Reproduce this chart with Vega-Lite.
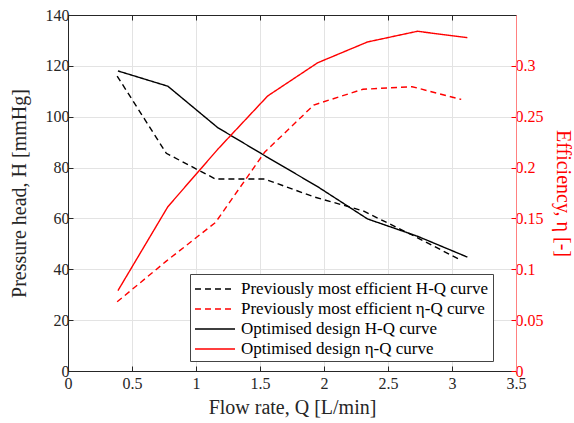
{
  "$schema": "https://vega.github.io/schema/vega-lite/v6.json",
  "width": 448,
  "height": 356,
  "autosize": "none",
  "padding": {"left": 68, "top": 15, "right": 58, "bottom": 52},
  "background": "white",
  "config": {
    "font": "Liberation Serif",
    "view": {"stroke": "#262626", "strokeWidth": 1},
    "axis": {"labelFont": "Liberation Serif", "titleFont": "Liberation Serif", "labelFontSize": 16, "titleFontSize": 20, "titleFontWeight": "normal", "gridColor": "#e3e3e3", "gridWidth": 1, "tickSize": -5, "domainColor": "#262626", "tickColor": "#262626", "labelColor": "#262626", "titleColor": "#262626", "labelPadding": 4, "labelFlush": false}
  },
  "data": {"values": [
    {"series": "Previously most efficient H-Q curve", "k": "H", "Q": 0.384, "v": 116},
    {"series": "Previously most efficient H-Q curve", "k": "H", "Q": 0.768, "v": 85.6},
    {"series": "Previously most efficient H-Q curve", "k": "H", "Q": 1.152, "v": 75.5},
    {"series": "Previously most efficient H-Q curve", "k": "H", "Q": 1.536, "v": 75.5},
    {"series": "Previously most efficient H-Q curve", "k": "H", "Q": 1.92, "v": 68.5},
    {"series": "Previously most efficient H-Q curve", "k": "H", "Q": 2.304, "v": 63},
    {"series": "Previously most efficient H-Q curve", "k": "H", "Q": 2.688, "v": 53.5},
    {"series": "Previously most efficient H-Q curve", "k": "H", "Q": 3.072, "v": 43.5},
    {"series": "Optimised design H-Q curve", "k": "H", "Q": 0.39, "v": 118},
    {"series": "Optimised design H-Q curve", "k": "H", "Q": 0.78, "v": 112},
    {"series": "Optimised design H-Q curve", "k": "H", "Q": 1.17, "v": 95.7},
    {"series": "Optimised design H-Q curve", "k": "H", "Q": 1.56, "v": 84},
    {"series": "Optimised design H-Q curve", "k": "H", "Q": 1.95, "v": 72.5},
    {"series": "Optimised design H-Q curve", "k": "H", "Q": 2.34, "v": 59.8},
    {"series": "Optimised design H-Q curve", "k": "H", "Q": 2.73, "v": 53},
    {"series": "Optimised design H-Q curve", "k": "H", "Q": 3.12, "v": 44.8},
    {"series": "Previously most efficient η-Q curve", "k": "E", "Q": 0.384, "v": 0.068},
    {"series": "Previously most efficient η-Q curve", "k": "E", "Q": 0.768, "v": 0.108},
    {"series": "Previously most efficient η-Q curve", "k": "E", "Q": 1.152, "v": 0.146},
    {"series": "Previously most efficient η-Q curve", "k": "E", "Q": 1.536, "v": 0.215},
    {"series": "Previously most efficient η-Q curve", "k": "E", "Q": 1.92, "v": 0.2615},
    {"series": "Previously most efficient η-Q curve", "k": "E", "Q": 2.304, "v": 0.277},
    {"series": "Previously most efficient η-Q curve", "k": "E", "Q": 2.688, "v": 0.2795},
    {"series": "Previously most efficient η-Q curve", "k": "E", "Q": 3.072, "v": 0.267},
    {"series": "Optimised design η-Q curve", "k": "E", "Q": 0.39, "v": 0.079},
    {"series": "Optimised design η-Q curve", "k": "E", "Q": 0.78, "v": 0.1615},
    {"series": "Optimised design η-Q curve", "k": "E", "Q": 1.17, "v": 0.218},
    {"series": "Optimised design η-Q curve", "k": "E", "Q": 1.56, "v": 0.2704},
    {"series": "Optimised design η-Q curve", "k": "E", "Q": 1.95, "v": 0.303},
    {"series": "Optimised design η-Q curve", "k": "E", "Q": 2.34, "v": 0.3235},
    {"series": "Optimised design η-Q curve", "k": "E", "Q": 2.73, "v": 0.334},
    {"series": "Optimised design η-Q curve", "k": "E", "Q": 3.12, "v": 0.3277}
  ]},
  "encoding": {
    "x": {"field": "Q", "type": "quantitative", "scale": {"domain": [0, 3.5], "nice": false, "zero": false},
      "axis": {"title": "Flow rate, Q [L/min]", "values": [0, 0.5, 1, 1.5, 2, 2.5, 3, 3.5], "format": "~f", "labelPadding": 9, "titlePadding": 6}},
    "color": {"field": "series", "type": "nominal",
      "scale": {"domain": ["Previously most efficient H-Q curve", "Previously most efficient η-Q curve", "Optimised design H-Q curve", "Optimised design η-Q curve"], "range": ["#000000", "#ff0000", "#000000", "#ff0000"]},
      "legend": {"title": null, "orient": "none", "legendX": 122, "legendY": 259, "fillColor": "white", "strokeColor": "#444444", "padding": 4, "symbolType": "M-1,0H3", "symbolSize": 400, "symbolStrokeWidth": 1.4, "labelFontSize": 17, "labelFont": "Liberation Serif", "labelColor": "#000000", "labelLimit": 400, "rowPadding": 1, "labelOffset": 25, "symbolOffset": 0}},
    "strokeDash": {"field": "series", "type": "nominal",
      "scale": {"domain": ["Previously most efficient H-Q curve", "Previously most efficient η-Q curve", "Optimised design H-Q curve", "Optimised design η-Q curve"], "range": [[6, 4], [6, 4], [1, 0], [1, 0]]},
      "legend": {"title": null, "orient": "none", "legendX": 122, "legendY": 259, "fillColor": "white", "strokeColor": "#444444", "padding": 4, "symbolType": "M-1,0H3", "symbolSize": 400, "symbolStrokeWidth": 1.4, "labelFontSize": 17, "labelFont": "Liberation Serif", "labelColor": "#000000", "labelLimit": 400, "rowPadding": 1, "labelOffset": 25, "symbolOffset": 0}}
  },
  "layer": [
    {
      "transform": [{"filter": "datum.k === 'H'"}],
      "mark": {"type": "line", "strokeWidth": 1.4},
      "encoding": {
        "y": {"field": "v", "type": "quantitative", "scale": {"domain": [0, 140], "nice": false},
          "axis": {"title": "Pressure head, H [mmHg]", "values": [0, 20, 40, 60, 80, 100, 120, 140], "titlePadding": 16}}
      }
    },
    {
      "transform": [{"filter": "datum.k === 'E'"}],
      "mark": {"type": "line", "strokeWidth": 1.4},
      "encoding": {
        "x": {"field": "Q", "type": "quantitative", "axis": {"orient": "top", "labels": false, "title": null, "grid": false, "values": [0, 0.5, 1, 1.5, 2, 2.5, 3, 3.5]}},
        "y": {"field": "v", "type": "quantitative", "scale": {"domain": [0, 0.35], "nice": false},
          "axis": {"orient": "right", "title": "Efficiency, η [-]", "values": [0, 0.05, 0.1, 0.15, 0.2, 0.25, 0.3], "format": "~f", "grid": false, "domainColor": "#ff8080", "tickColor": "#ff0000", "labelColor": "#ff0000", "titleColor": "#ff0000", "titlePadding": 9}}
      }
    }
  ],
  "resolve": {"scale": {"y": "independent"}, "axis": {"x": "independent"}}
}
